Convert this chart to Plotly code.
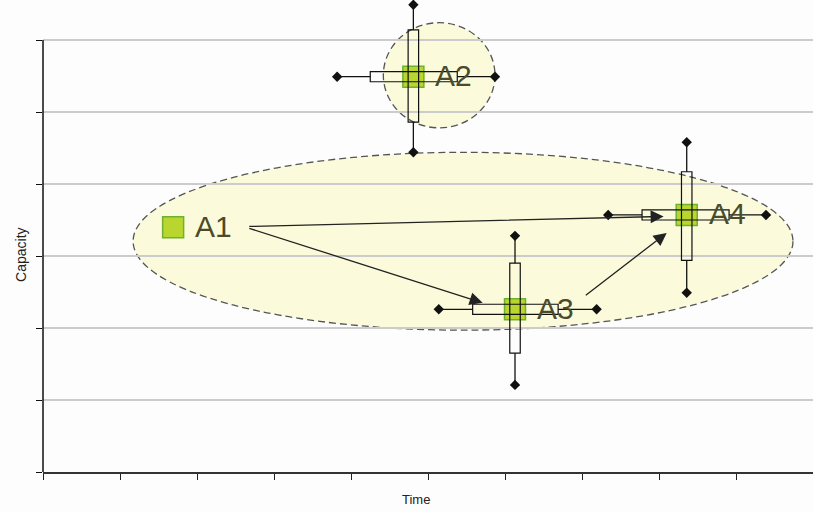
import plotly.graph_objects as go

# points (centre of each activity)
names = ["A1", "A2", "A3", "A4"]
px_ = [1.69, 4.81, 6.13, 8.36]
py_ = [3.40, 5.49, 2.26, 3.57]

# spread of A2..A4 in time (x) and capacity (y)
spread_idx = [1, 2, 3]
x_min = [3.82, 5.14, 7.34]
x_q1 = [4.25, 5.58, 7.78]
x_q3 = [5.38, 6.69, 8.91]
x_max = [5.87, 7.19, 9.39]
y_min = [4.44, 1.21, 2.49]
y_q1 = [4.86, 1.65, 2.94]
y_q3 = [6.14, 2.90, 4.17]
y_max = [6.49, 3.28, 4.58]

# dashed groupings
ell_x0 = [1.17, 4.42]
ell_x1 = [9.74, 5.87]
ell_y0 = [1.97, 4.78]
ell_y1 = [4.44, 6.24]

# arrows between activities
arr_from_x = [2.66, 2.66, 7.03]
arr_from_y = [3.41, 3.39, 2.44]
arr_to_x = [8.06, 5.71, 8.10]
arr_to_y = [3.55, 2.35, 3.32]

x_ticks = list(range(0, 11))
y_ticks = list(range(0, 7))

BH_Y = 0.07   # half thickness of the horizontal boxes
BH_X = 0.068  # half width of the vertical boxes

fig = go.Figure()
shapes = []

for i in range(len(ell_x0)):
    shapes.append(dict(type="circle", xref="x", yref="y", layer="below",
                       x0=ell_x0[i], x1=ell_x1[i], y0=ell_y0[i], y1=ell_y1[i],
                       fillcolor="#fbfbdc", line=dict(color="#555555", width=1.3, dash="7px,4px")))

# whiskers
wx, wy = [], []
for k, i in enumerate(spread_idx):
    cx, cy = px_[i], py_[i]
    wx += [x_min[k], x_q1[k], None, x_q3[k], x_max[k], None]
    wy += [cy, cy, None, cy, cy, None]
    wx += [cx, cx, None, cx, cx, None]
    wy += [y_min[k], y_q1[k], None, y_q3[k], y_max[k], None]
fig.add_trace(go.Scatter(x=wx, y=wy, mode="lines", line=dict(color="#111111", width=1.3),
                         hoverinfo="skip", showlegend=False))

# whisker end diamonds
dx, dy = [], []
for k, i in enumerate(spread_idx):
    dx += [x_min[k], x_max[k], px_[i], px_[i]]
    dy += [py_[i], py_[i], y_min[k], y_max[k]]
fig.add_trace(go.Scatter(x=dx, y=dy, mode="markers", cliponaxis=False,
                         marker=dict(symbol="diamond", size=8, color="#111111"),
                         hoverinfo="skip", showlegend=False))

fig.add_trace(go.Scatter(x=px_, y=py_, mode="markers", showlegend=False,
                         marker=dict(symbol="square", size=21, color="#b8d62e",
                                     line=dict(color="#70b030", width=1.5))))

# boxes on top of the squares
for k, i in enumerate(spread_idx):
    cx, cy = px_[i], py_[i]
    shapes.append(dict(type="rect", xref="x", yref="y", layer="above",
                       x0=x_q1[k], x1=x_q3[k], y0=cy - BH_Y, y1=cy + BH_Y,
                       line=dict(color="#111111", width=1.2)))
    shapes.append(dict(type="rect", xref="x", yref="y", layer="above",
                       x0=cx - BH_X, x1=cx + BH_X, y0=y_q1[k], y1=y_q3[k],
                       line=dict(color="#111111", width=1.2)))

# y axis line only up to the top tick
shapes.append(dict(type="line", xref="paper", yref="y", x0=0, x1=0, y0=0, y1=6,
                   line=dict(color="#111111", width=1.5)))

annotations = []
for n, x, y in zip(names, px_, py_):
    annotations.append(dict(x=x, y=y, text=n, showarrow=False, xanchor="left",
                            xshift=20, yshift=1,
                            font=dict(family="Liberation Sans, Arial", size=30, color="#4b4b2b")))
for fx, fy, tx, ty in zip(arr_from_x, arr_from_y, arr_to_x, arr_to_y):
    annotations.append(dict(x=tx, y=ty, ax=fx, ay=fy, axref="x", ayref="y", text="",
                            showarrow=True, arrowhead=2, arrowsize=2, arrowwidth=1.3,
                            arrowcolor="#222222"))
annotations.append(dict(x=0.485, y=0, xref="paper", yref="paper", yshift=-27,
                        xanchor="center", yanchor="middle", text="Time", showarrow=False,
                        font=dict(family="Liberation Sans", size=13, color="#222222")))
annotations.append(dict(x=0, y=0.46, xref="paper", yref="paper", xshift=-22, textangle=-90,
                        xanchor="center", yanchor="middle", text="Capacity", showarrow=False,
                        font=dict(family="Liberation Sans", size=14, color="#222222")))

fig.update_layout(
    width=813, height=512,
    margin=dict(l=43, r=0, t=0, b=40),
    paper_bgcolor="#fdfdfd", plot_bgcolor="#fdfdfd",
    shapes=shapes, annotations=annotations,
    xaxis=dict(range=[0, 10], tickvals=x_ticks, showticklabels=False, ticks="outside",
               ticklen=6, tickcolor="#222222", showgrid=False, zeroline=False,
               showline=True, linecolor="#333333", linewidth=2),
    yaxis=dict(range=[0, 472 / 72], tickvals=y_ticks, showticklabels=False, ticks="outside",
               ticklen=6, tickcolor="#111111", showgrid=True, gridcolor="#cccccc",
               gridwidth=1.5, zeroline=False, showline=False),
)

fig.write_html("out.html", config={"displayModeBar": False},
               post_script="document.body.style.margin='0';")
